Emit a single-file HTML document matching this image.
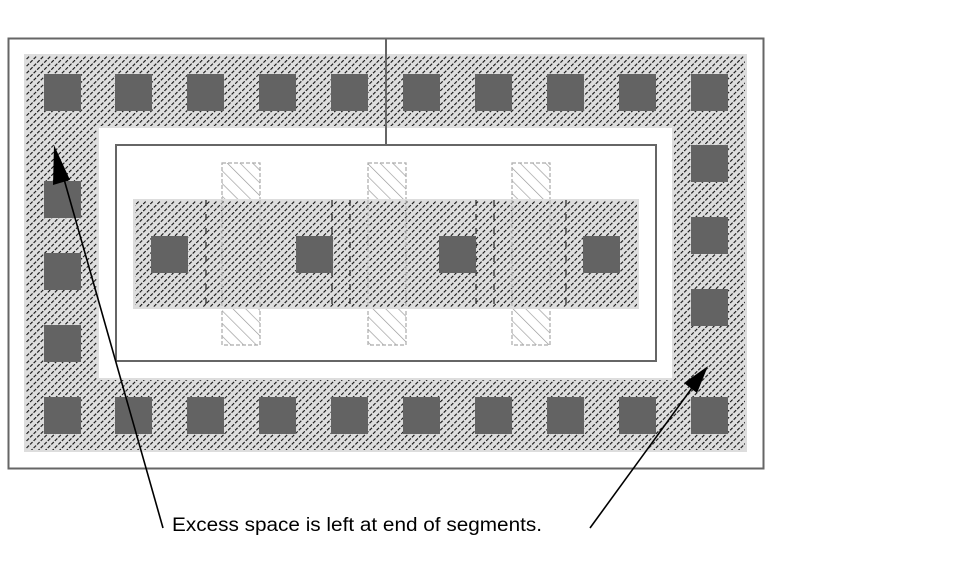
<!DOCTYPE html>
<html><head><meta charset="utf-8"><style>
html,body{margin:0;padding:0;background:#fff;}
svg{display:block;}
</style></head><body>
<svg width="961" height="573" viewBox="0 0 961 573" xmlns="http://www.w3.org/2000/svg">
<defs>
<pattern id="h" width="5" height="5" patternUnits="userSpaceOnUse" patternTransform="rotate(45)">
<rect width="5" height="5" fill="#dedede"/>
<line x1="0" y1="0" x2="0" y2="5" stroke="#111" stroke-width="2.2" stroke-dasharray="3 1.5"/>
</pattern>
<pattern id="g" width="9" height="9" patternUnits="userSpaceOnUse" patternTransform="rotate(-45)">
<rect width="9" height="9" fill="#fff"/>
<line x1="0" y1="0" x2="0" y2="9" stroke="#999" stroke-width="1.3"/>
</pattern>
</defs>
<rect x="8.5" y="38.5" width="755" height="430" fill="#fff" stroke="#666" stroke-width="2"/>
<path d="M25 55H746V451H25Z M98 127V379H673V127Z" fill="url(#h)" fill-rule="evenodd" stroke="#ddd" stroke-width="2"/>
<line x1="386" y1="38" x2="386" y2="145" stroke="#666" stroke-width="2"/>
<rect x="116" y="145" width="540" height="216" fill="#fff" stroke="#666" stroke-width="2"/>
<g fill="url(#g)" stroke="#aaa" stroke-width="1.2" stroke-dasharray="4 2">
<rect x="222" y="163" width="38" height="182"/>
<rect x="368" y="163" width="38" height="182"/>
<rect x="512" y="163" width="38" height="182"/>
</g>
<rect x="134" y="200" width="504" height="108" fill="url(#h)" stroke="#ddd" stroke-width="2"/>
<g fill="none" stroke="#bbb" stroke-width="1.2" stroke-dasharray="4 2">
<path d="M222 200V308M260 200V308M368 200V308M406 200V308M512 200V308M550 200V308"/>
</g>
<g stroke="#222" stroke-width="1.2" stroke-dasharray="6 8" fill="none">
<path d="M206 200V308M332 200V308M350 200V308M476 200V308M494 200V308M566 200V308"/>
</g>
<g fill="#636363">
<rect x="44" y="74" width="37" height="37"/><rect x="115" y="74" width="37" height="37"/><rect x="187" y="74" width="37" height="37"/><rect x="259" y="74" width="37" height="37"/><rect x="331" y="74" width="37" height="37"/><rect x="403" y="74" width="37" height="37"/><rect x="475" y="74" width="37" height="37"/><rect x="547" y="74" width="37" height="37"/><rect x="619" y="74" width="37" height="37"/><rect x="691" y="74" width="37" height="37"/>
<rect x="44" y="397" width="37" height="37"/><rect x="115" y="397" width="37" height="37"/><rect x="187" y="397" width="37" height="37"/><rect x="259" y="397" width="37" height="37"/><rect x="331" y="397" width="37" height="37"/><rect x="403" y="397" width="37" height="37"/><rect x="475" y="397" width="37" height="37"/><rect x="547" y="397" width="37" height="37"/><rect x="619" y="397" width="37" height="37"/><rect x="691" y="397" width="37" height="37"/>
<rect x="44" y="181" width="37" height="37"/><rect x="44" y="253" width="37" height="37"/><rect x="44" y="325" width="37" height="37"/>
<rect x="691" y="145" width="37" height="37"/><rect x="691" y="217" width="37" height="37"/><rect x="691" y="289" width="37" height="37"/>
<rect x="151" y="236" width="37" height="37"/><rect x="296" y="236" width="37" height="37"/><rect x="439" y="236" width="37" height="37"/><rect x="583" y="236" width="37" height="37"/>
</g>
<line x1="163" y1="528" x2="60" y2="165" stroke="#000" stroke-width="1.6"/>
<polygon points="54,145 70,180 53,185" fill="#000"/>
<line x1="590" y1="528" x2="697" y2="381" stroke="#000" stroke-width="1.6"/>
<polygon points="708,366 697,393 684,383" fill="#000"/>
<text x="172" y="531" font-family="Liberation Sans, sans-serif" font-size="19" textLength="370" lengthAdjust="spacingAndGlyphs" fill="#000">Excess space is left at end of segments.</text>
</svg>
</body></html>
